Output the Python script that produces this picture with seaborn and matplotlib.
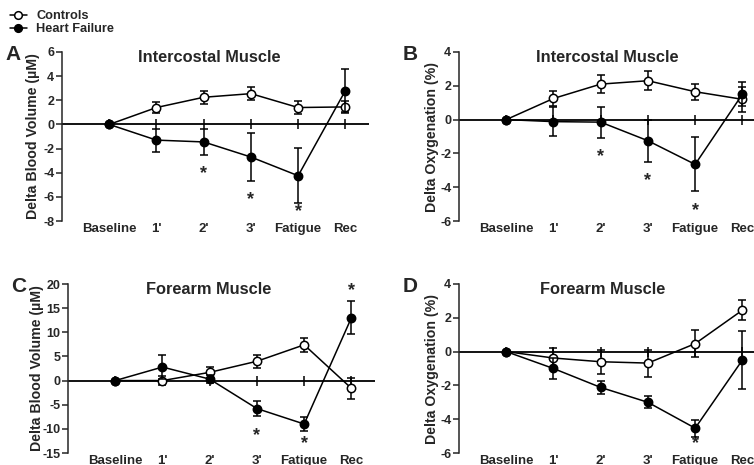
import numpy as np
import pandas as pd
import seaborn as sns
from matplotlib import pyplot as plt
from matplotlib.lines import Line2D

stages = ['Baseline', "1'", "2'", "3'", 'Fatigue', 'Rec']

# A - intercostal, blood volume (uM)
a_ctrl = [0, 1.4, 2.25, 2.55, 1.4, 1.45]
a_ctrl_err = [0, 0.45, 0.55, 0.55, 0.5, 0.5]
a_hf = [0, -1.3, -1.45, -2.7, -4.25, 2.8]
a_hf_err = [0, 0.95, 1.05, 1.95, 2.3, 1.8]
a_stars = ["2'", "3'", 'Fatigue']

# B - intercostal, oxygenation (%)
b_ctrl = [0, 1.25, 2.1, 2.3, 1.65, 1.2]
b_ctrl_err = [0, 0.46, 0.52, 0.55, 0.48, 0.75]
b_hf = [0, -0.12, -0.15, -1.25, -2.65, 1.5]
b_hf_err = [0, 0.85, 0.92, 1.25, 1.6, 0.7]
b_stars = ["2'", "3'", 'Fatigue']

# C - forearm, blood volume (uM)
c_ctrl = [0, 0.0, 1.7, 4.0, 7.4, -1.6]
c_ctrl_err = [0, 0.9, 1.2, 1.3, 1.5, 2.2]
c_hf = [0, 2.8, 0.3, -5.8, -9.0, 13.0]
c_hf_err = [0, 2.5, 0.8, 1.6, 1.5, 3.4]
c_stars = ["3'", 'Fatigue', 'Rec']

# D - forearm, oxygenation (%)
d_ctrl = [0, -0.38, -0.6, -0.68, 0.47, 2.45]
d_ctrl_err = [0, 0.62, 0.72, 0.8, 0.8, 0.6]
d_hf = [0, -1.0, -2.12, -3.0, -4.53, -0.5]
d_hf_err = [0, 0.63, 0.4, 0.35, 0.5, 1.72]
d_stars = ['Fatigue']

sns.set_style('ticks')
plt.rcParams['font.family'] = ['Liberation Sans', 'DejaVu Sans']
plt.rcParams['font.weight'] = 'bold'
plt.rcParams['axes.unicode_minus'] = False

fig = plt.figure(figsize=(7.54, 4.65), dpi=100)
W, H = 754.0, 465.0
AX_W, AX_H = 307.0, 169.0


def draw_panel(rect, ctrl, ctrl_err, hf, hf_err, stars, ylim, yticks, ylabel, title, letter,
               title_x=0.47, ylabel_off=-23):
    left, top = rect
    ax = fig.add_axes([left / W, 1 - (top + AX_H) / H, AX_W / W, AX_H / H])
    x = np.arange(len(stages))
    df = pd.DataFrame({'x': np.r_[x, x], 'y': np.r_[ctrl, hf],
                       'err': np.r_[ctrl_err, hf_err],
                       'group': ['Controls'] * len(x) + ['Heart Failure'] * len(x)})

    ax.axhline(0, color='black', lw=1.3, zorder=1)
    ax.plot(x, np.zeros(len(x)), ls='none', marker='|', ms=7.5, mew=1.1, color='black', zorder=1)

    for i, (grp, face) in enumerate([('Controls', 'white'), ('Heart Failure', 'black')]):
        sub = df[df.group == grp]
        z = 3 + 2 * i
        ax.errorbar(sub.x, sub.y, yerr=sub.err, fmt='none', ecolor='black',
                    elinewidth=1.1, capsize=3.2, capthick=1.1, zorder=z)
        sns.lineplot(data=sub, x='x', y='y', ax=ax, color='black', lw=1.1,
                     marker='o', markersize=6, markerfacecolor=face,
                     markeredgecolor='black', markeredgewidth=1.1, zorder=z + 1)

    # significance stars for heart failure
    rng = ylim[1] - ylim[0]
    for s in stars:
        i = stages.index(s)
        m, e = hf[i], hf_err[i]
        if m >= 0:
            ys = m + e + 11 * rng / AX_H
        else:
            ys = max(m - e - 19 * rng / AX_H, ylim[0] + 9 * rng / AX_H)
        ax.text(i, ys, '*', ha='center', va='center', fontsize=13, fontweight='bold')

    ax.set_xlim(-1.0, 5.5)
    ax.set_ylim(*ylim)
    ax.set_yticks(yticks)
    ax.set_xticks(x)
    ax.set_xticklabels(stages)
    ax.tick_params(axis='x', length=0, pad=1.5, labelsize=9.5)
    ax.tick_params(axis='y', length=4, width=1.1, direction='out', pad=1.5, labelsize=9)
    for sp in ['top', 'right', 'bottom']:
        ax.spines[sp].set_visible(False)
    ax.spines['left'].set_linewidth(1.1)
    ax.set_xlabel('')
    ax.set_ylabel(ylabel, fontsize=10.2, fontweight='bold')
    ax.yaxis.set_label_coords(ylabel_off / AX_W, 0.5)
    ax.text(title_x, 1 - 5 / AX_H, title, transform=ax.transAxes, ha='center', va='center',
            fontsize=11.8, fontweight='bold')
    ax.text(-0.16, 0.985, letter, transform=ax.transAxes, ha='center', va='center',
            fontsize=15, fontweight='bold')
    return ax


draw_panel((62, 52), a_ctrl, a_ctrl_err, a_hf, a_hf_err, a_stars, (-8, 6),
           np.arange(-8, 7, 2), 'Delta Blood Volume (\u00b5M)', 'Intercostal Muscle', 'A',
           title_x=0.48, ylabel_off=-22)
draw_panel((459, 52), b_ctrl, b_ctrl_err, b_hf, b_hf_err, b_stars, (-6, 4),
           np.arange(-6, 5, 2), 'Delta Oxygenation (%)', 'Intercostal Muscle', 'B',
           title_x=0.482, ylabel_off=-20)
draw_panel((68, 284), c_ctrl, c_ctrl_err, c_hf, c_hf_err, c_stars, (-15, 20),
           np.arange(-15, 21, 5), 'Delta Blood Volume (\u00b5M)', 'Forearm Muscle', 'C',
           title_x=0.458, ylabel_off=-24)
draw_panel((459, 284), d_ctrl, d_ctrl_err, d_hf, d_hf_err, d_stars, (-6, 4),
           np.arange(-6, 5, 2), 'Delta Oxygenation (%)', 'Forearm Muscle', 'D',
           title_x=0.469, ylabel_off=-20)

handles = [Line2D([], [], color='black', lw=1.1, marker='o', ms=5.5, mfc='white', mec='black', mew=1.1),
           Line2D([], [], color='black', lw=1.1, marker='o', ms=5.5, mfc='black', mec='black', mew=1.1)]
fig.legend(handles, ['Controls', 'Heart Failure'], loc='upper left',
           bbox_to_anchor=(10 / W, 1 - 10 / H), frameon=False, fontsize=9.2,
           borderaxespad=0, borderpad=0, handlelength=1.3, handletextpad=0.75,
           labelspacing=0.08)

fig.savefig('out.png', dpi=100)
